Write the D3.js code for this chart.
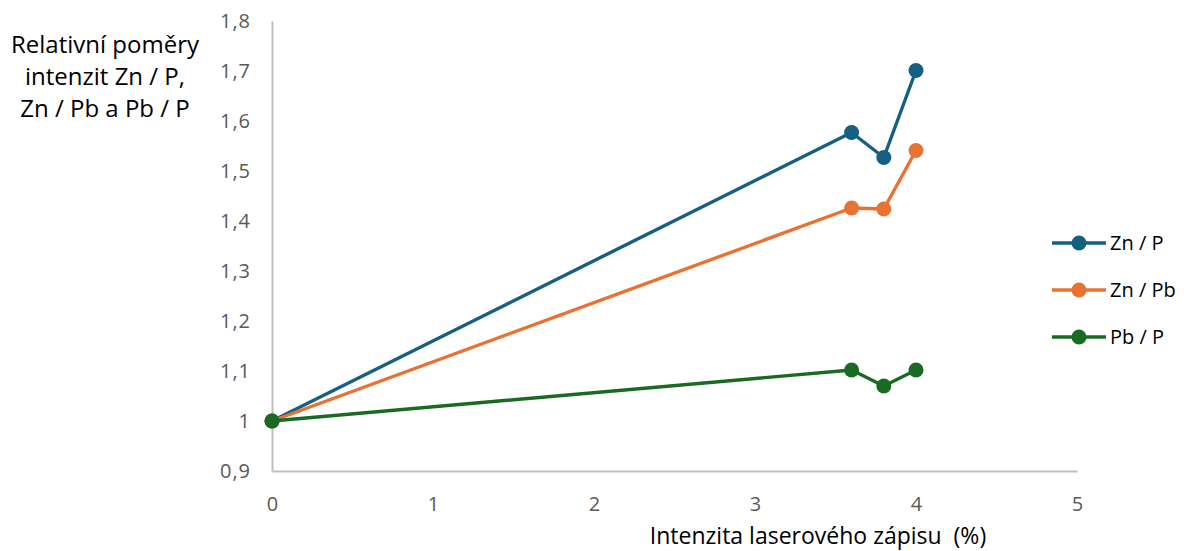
<!DOCTYPE html>
<html>
<head>
<meta charset="utf-8">
<script src="https://cdn.jsdelivr.net/npm/d3@7"></script>
<style>
  html, body { margin: 0; padding: 0; background: #fff; }
  svg { display: block; font-family: "Open Sans", "Noto Sans", sans-serif; }
</style>
</head>
<body>
<svg id="chart" width="1184" height="551"></svg>
<script>
// Laser write intensity (%) on the x axis
const intensity = [0, 3.6, 3.8, 4];

// Relative intensity ratios for each element pair
const seriesNames = ["Zn / P", "Zn / Pb", "Pb / P"];
const znP  = [1, 1.577, 1.527, 1.701];
const znPb = [1, 1.426, 1.424, 1.541];
const pbP  = [1, 1.102, 1.070, 1.102];
const seriesColors = ["#156082", "#E97132", "#196B24"];

const xTicks = [0, 1, 2, 3, 4, 5];
const yTicks = [0.9, 1, 1.1, 1.2, 1.3, 1.4, 1.5, 1.6, 1.7, 1.8];

const series = [znP, znPb, pbP].map((vals, i) => ({
  name: seriesNames[i],
  color: seriesColors[i],
  points: vals.map((v, j) => ({ x: intensity[j], y: v }))
}));

const svg = d3.select("#chart");
const plot = { left: 272, right: 1077, top: 21, bottom: 471 };

const x = d3.scaleLinear().domain([0, 5]).range([plot.left, plot.right]);
const y = d3.scaleLinear().domain([0.9, 1.8]).range([plot.bottom, plot.top]);

const fmt = d => String(+d.toFixed(1)).replace(".", ",");
const axisColor = "#bfbfbf";
const tickColor = "#595959";

// X axis
const gx = svg.append("g")
  .attr("transform", `translate(0,${plot.bottom})`)
  .call(d3.axisBottom(x).tickValues(xTicks).tickFormat(fmt).tickSize(0).tickPadding(26));
gx.select(".domain").attr("stroke", axisColor).attr("stroke-width", 2);
gx.selectAll("text").attr("fill", tickColor).style("font-size", "20px")
  .style("font-family", "'Open Sans', sans-serif");

// Y axis
const gy = svg.append("g")
  .attr("transform", `translate(${plot.left},0)`)
  .call(d3.axisLeft(y).tickValues(yTicks).tickFormat(fmt).tickSize(0).tickPadding(21));
gy.select(".domain").attr("stroke", axisColor).attr("stroke-width", 2);
gy.selectAll("text").attr("fill", tickColor).style("font-size", "20px")
  .style("letter-spacing", "1px")
  .style("font-family", "'Open Sans', sans-serif");

// Axis titles
const yTitle = svg.append("text")
  .attr("text-anchor", "middle")
  .attr("fill", "#000")
  .style("font-size", "24px");
["Relativní poměry", "intenzit Zn / P,", "Zn / Pb a Pb / P"].forEach((line, i) => {
  yTitle.append("tspan").attr("x", 105).attr("y", 53 + i * 32).text(line);
});

svg.append("text")
  .attr("x", 818).attr("y", 544)
  .attr("text-anchor", "middle")
  .attr("fill", "#000")
  .style("font-size", "23px")
  .style("white-space", "pre")
  .text("Intenzita laserového zápisu  (%)");

// Lines and markers
const line = d3.line().x(d => x(d.x)).y(d => y(d.y));

const g = svg.append("g").selectAll("g").data(series).join("g");
g.append("path")
  .attr("d", d => line(d.points))
  .attr("fill", "none")
  .attr("stroke", d => d.color)
  .attr("stroke-width", 3.4)
  .attr("stroke-linejoin", "round");
g.selectAll("circle")
  .data(d => d.points.map(p => ({ ...p, color: d.color })))
  .join("circle")
  .attr("cx", d => x(d.x))
  .attr("cy", d => y(d.y))
  .attr("r", 7.5)
  .attr("fill", d => d.color);

// Legend
const legend = svg.append("g").selectAll("g").data(series).join("g")
  .attr("transform", (d, i) => `translate(1052,${243 + i * 47})`);
legend.append("line")
  .attr("x1", 0).attr("x2", 54)
  .attr("stroke", d => d.color).attr("stroke-width", 3.4);
legend.append("circle")
  .attr("cx", 27).attr("r", 7.5)
  .attr("fill", d => d.color);
legend.append("text")
  .attr("x", 58).attr("dy", "0.35em")
  .attr("fill", "#000")
  .style("font-size", "20px")
  .text(d => d.name);
</script>
</body>
</html>
